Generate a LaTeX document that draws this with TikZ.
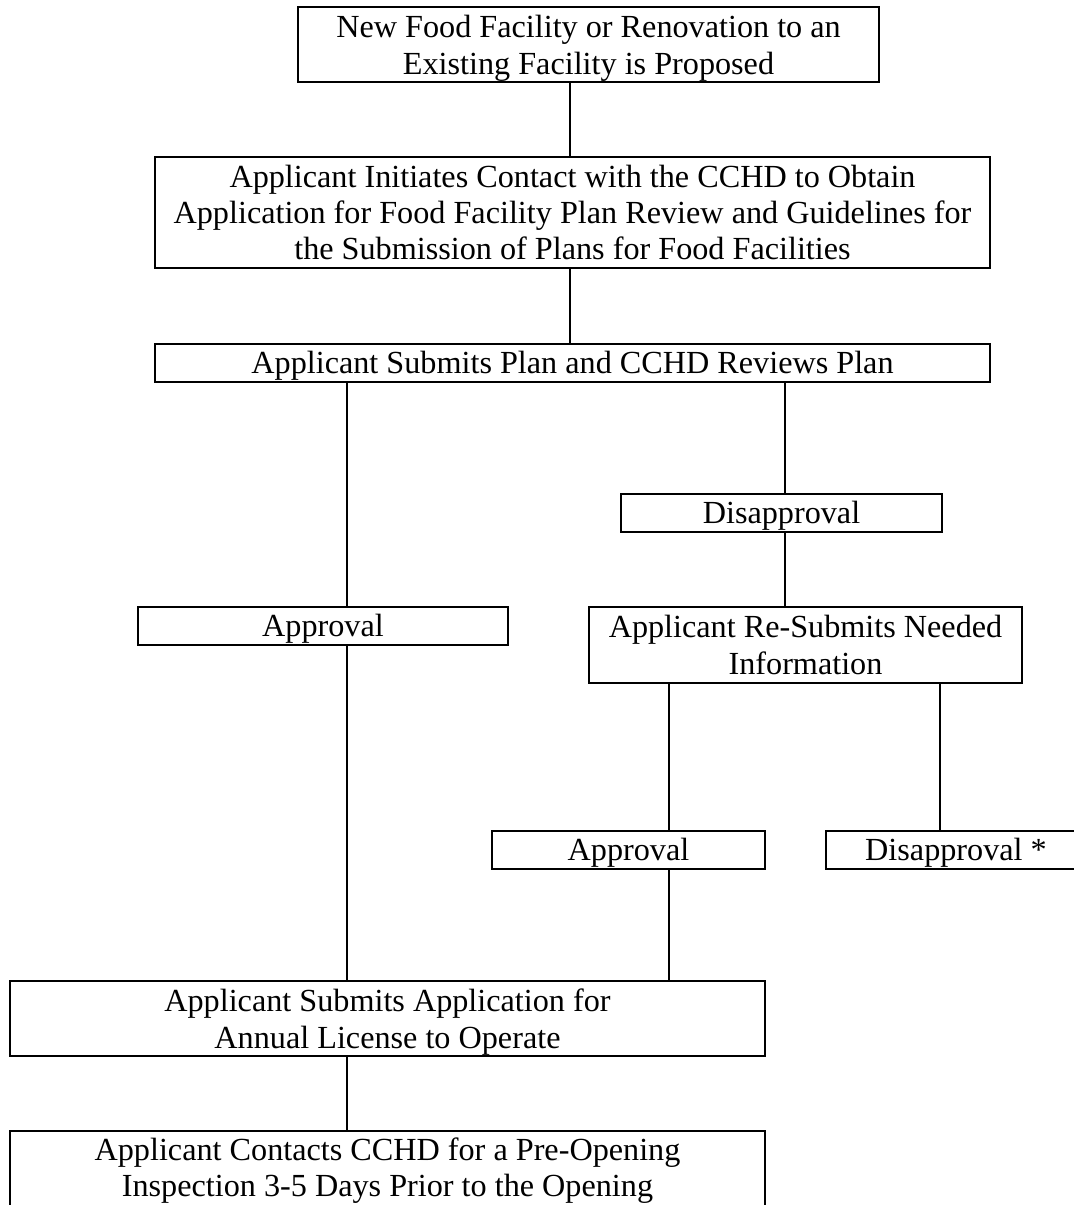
\documentclass[tikz,border=0pt]{standalone}
\usepackage{fontspec}
\setmainfont{Liberation Serif}

\begin{document}
\begin{tikzpicture}[x=0.5pt, y=-0.5pt,
    box/.style={rectangle, draw, line width=0.75pt, inner sep=0pt, align=center, font=\fontsize{16.1}{18.2}\selectfont},
    oneline/.style={text height=14pt, text depth=3.5pt},
    twoline/.style={text height=33pt},
    link/.style={draw, line width=0.6pt}]
    \useasboundingbox (0,0) rectangle (1073,1205);

    % Nodes
    \node[box, twoline, minimum width=290.5pt, minimum height=37.5pt] (new) at (588.5,44.5) {New Food Facility or Renovation to an\\ Existing Facility is Proposed};
    \node[box, minimum width=417.5pt, minimum height=55.5pt] (contact) at (572.5,212.5) {Applicant Initiates Contact with the CCHD to Obtain\\ Application for Food Facility Plan Review and Guidelines for\\ the Submission of Plans for Food Facilities};
    \node[box, oneline, minimum width=417.5pt, minimum height=19pt] (review) at (572.5,363) {Applicant Submits Plan and CCHD Reviews Plan};
    \node[box, oneline, minimum width=160.5pt, minimum height=19pt] (deny) at (781.5,513) {Disapproval};
    \node[box, oneline, minimum width=185pt, minimum height=19pt] (okA) at (323,626) {Approval};
    \node[box, minimum width=216.5pt, minimum height=38pt] (resubmit) at (805.5,645) {Applicant Re-Submits Needed\\ Information};
    \node[box, oneline, minimum width=136.5pt, minimum height=19pt] (okB) at (628.5,850) {Approval};
    \node[box, oneline, minimum width=130pt, minimum height=19pt] (denyB) at (956,850) {Disapproval *};
    \node[box, twoline, minimum width=377.5pt, minimum height=37.5pt] (license) at (387.5,1018.5) {Applicant Submits Application for\\ Annual License to Operate};
    \node[box, minimum width=377.5pt, minimum height=39.5pt] (inspect) at (387.5,1170.5) {Applicant Contacts CCHD for a Pre-Opening\\ Inspection 3-5 Days Prior to the Opening};

    % Trunks
    \coordinate (main) at (570,0);
    \coordinate (left) at (347,0);
    \coordinate (right) at (785,0);
    \coordinate (midB) at (669,0);
    \coordinate (farB) at (940,0);

    % Lines
    \draw[link] (new.south -| main) -- (contact.north -| main);
    \draw[link] (contact.south -| main) -- (review.north -| main);
    \draw[link] (review.south -| left) -- (okA.north -| left);
    \draw[link] (okA.south -| left) -- (license.north -| left);
    \draw[link] (review.south -| right) -- (deny.north -| right);
    \draw[link] (deny.south -| right) -- (resubmit.north -| right);
    \draw[link] (resubmit.south -| midB) -- (okB.north -| midB);
    \draw[link] (resubmit.south -| farB) -- (denyB.north -| farB);
    \draw[link] (okB.south -| midB) -- (license.north -| midB);
    \draw[link] (license.south -| left) -- (inspect.north -| left);

\end{tikzpicture}
\end{document}
